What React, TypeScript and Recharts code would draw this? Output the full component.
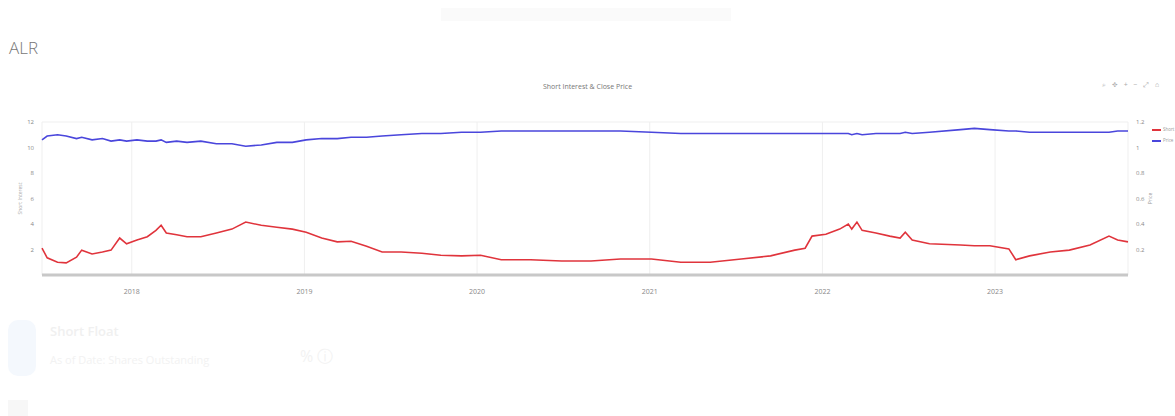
import React from "react";
import { LineChart, Line, XAxis, YAxis, CartesianGrid } from "recharts";

const dates = [
  2017.48, 2017.51, 2017.57, 2017.62, 2017.68, 2017.71, 2017.77, 2017.83, 2017.88, 2017.93,
  2017.97, 2018.03, 2018.09, 2018.14, 2018.17, 2018.2, 2018.26, 2018.32, 2018.4, 2018.49,
  2018.58, 2018.66, 2018.75, 2018.84, 2018.93, 2019.01, 2019.1, 2019.19, 2019.27, 2019.36,
  2019.45, 2019.56, 2019.68, 2019.79, 2019.91, 2020.02, 2020.14, 2020.31, 2020.49, 2020.66,
  2020.83, 2021.01, 2021.18, 2021.35, 2021.53, 2021.7, 2021.84, 2021.9, 2021.94, 2022.02,
  2022.1, 2022.15, 2022.17, 2022.2, 2022.23, 2022.31, 2022.39, 2022.45, 2022.48, 2022.52,
  2022.62, 2022.8, 2022.88, 2022.97, 2023.08, 2023.12, 2023.2, 2023.32, 2023.43, 2023.55,
  2023.66, 2023.71, 2023.77,
];

const shortInterest = [
  2.1, 1.35, 1.0, 0.95, 1.4, 1.95, 1.65, 1.8, 1.95, 2.9,
  2.45, 2.75, 3.0, 3.5, 3.9, 3.3, 3.15, 3.0, 3.0, 3.3,
  3.6, 4.15, 3.9, 3.75, 3.6, 3.35, 2.9, 2.6, 2.65, 2.25,
  1.8, 1.8, 1.7, 1.55, 1.5, 1.55, 1.2, 1.2, 1.1, 1.1,
  1.25, 1.25, 1.0, 1.0, 1.25, 1.5, 1.95, 2.1, 3.05, 3.2,
  3.6, 4.0, 3.6, 4.15, 3.5, 3.3, 3.05, 2.9, 3.35, 2.75,
  2.45, 2.35, 2.3, 2.3, 2.05, 1.2, 1.5, 1.8, 1.95, 2.35,
  3.05, 2.75, 2.6,
];

const closePrice = [
  1.06, 1.09, 1.1, 1.09, 1.07, 1.08, 1.06, 1.07, 1.05, 1.06,
  1.05, 1.06, 1.05, 1.05, 1.06, 1.04, 1.05, 1.04, 1.05, 1.03,
  1.03, 1.01, 1.02, 1.04, 1.04, 1.06, 1.07, 1.07, 1.08, 1.08,
  1.09, 1.1, 1.11, 1.11, 1.12, 1.12, 1.13, 1.13, 1.13, 1.13,
  1.13, 1.12, 1.11, 1.11, 1.11, 1.11, 1.11, 1.11, 1.11, 1.11,
  1.11, 1.11, 1.1, 1.11, 1.1, 1.11, 1.11, 1.11, 1.12, 1.11,
  1.12, 1.14, 1.15, 1.14, 1.13, 1.13, 1.12, 1.12, 1.12, 1.12,
  1.12, 1.13, 1.13,
];

const yearTicks = [2018, 2019, 2020, 2021, 2022, 2023];
const leftTicks = [2, 4, 6, 8, 10, 12];
const rightTicks = [0.2, 0.4, 0.6, 0.8, 1, 1.2];

const data = dates.map((t, i) => ({ t, si: shortInterest[i], px: closePrice[i] }));

const RED = "#e0343c";
const BLUE = "#4a46dc";
const FONT = "'Open Sans', 'Noto Sans', sans-serif";

export default function App() {
  return (
    <div style={{ position: "absolute", left: 0, top: 0, width: 1175, height: 416, fontFamily: FONT, background: "#fff", overflow: "hidden" }}>
      <div style={{ position: "absolute", left: 441, top: 8, width: 290, height: 13, background: "#fafafa" }} />
      <div style={{ position: "absolute", left: 9, top: 36, fontSize: 17, color: "#777", fontWeight: 300 }}>ALR</div>
      <div style={{ position: "absolute", left: 0, width: 1175, top: 82, textAlign: "center", fontSize: 7, color: "#777" }}>
        Short Interest &amp; Close Price
      </div>
      <div style={{ position: "absolute", left: 1102, top: 80, fontSize: 7, color: "#aaa", letterSpacing: 2, whiteSpace: "nowrap" }}>⌕ ✥ + − ⤢ ⌂</div>
      <div style={{ position: "absolute", left: 1152, top: 124, fontSize: 4.5, color: "#999", lineHeight: "11px" }}>
        <div style={{ display: "flex", alignItems: "center", whiteSpace: "nowrap" }}>
          <span style={{ display: "inline-block", width: 9, height: 2, background: RED, marginRight: 2 }} />Short
        </div>
        <div style={{ display: "flex", alignItems: "center", whiteSpace: "nowrap" }}>
          <span style={{ display: "inline-block", width: 9, height: 2, background: BLUE, marginRight: 2 }} />Price
        </div>
      </div>
      <div style={{ position: "absolute", left: 0, top: 100 }}>
        <LineChart width={1175} height={200} data={data} margin={{ top: 22, right: 17, bottom: 0, left: 0 }}>
          <CartesianGrid stroke="#efefef" strokeWidth={1} />
          <XAxis
            dataKey="t"
            type="number"
            domain={[2017.48, 2023.77]}
            ticks={yearTicks}
            height={25}
            tickLine={false}
            axisLine={{ stroke: "#c8c8c8", strokeWidth: 3 }}
            tick={{ fontSize: 7, fill: "#888" }}
            tickMargin={8}
            tickFormatter={(v: number) => String(v)}
          />
          <YAxis
            yAxisId="left"
            orientation="left"
            width={42}
            domain={[0, 12]}
            ticks={leftTicks}
            tickLine={false}
            axisLine={false}
            tick={{ fontSize: 6, fill: "#888" }}
            tickMargin={2}
            label={{ value: "Short Interest", angle: -90, position: "insideLeft", offset: 20, style: { fontSize: 5, fill: "#aaa", textAnchor: "middle" } }}
          />
          <YAxis
            yAxisId="right"
            orientation="right"
            width={30}
            domain={[0, 1.2]}
            ticks={rightTicks}
            tickLine={false}
            axisLine={false}
            tick={{ fontSize: 6, fill: "#888" }}
            tickMargin={2}
            tickFormatter={(v: number) => String(Math.round(v * 10) / 10)}
            label={{ value: "Price", angle: -90, position: "insideRight", offset: 8, style: { fontSize: 5, fill: "#999", textAnchor: "middle" } }}
          />
          <Line yAxisId="left" type="linear" dataKey="si" stroke={RED} strokeWidth={1.6} dot={false} isAnimationActive={false} />
          <Line yAxisId="right" type="linear" dataKey="px" stroke={BLUE} strokeWidth={1.6} dot={false} isAnimationActive={false} />
        </LineChart>
      </div>
      <div style={{ position: "absolute", left: 8, top: 320, width: 28, height: 56, borderRadius: 10, background: "#f4f8fd" }} />
      <div style={{ position: "absolute", left: 50, top: 322, fontSize: 13, color: "#f0f0f0", fontWeight: 600 }}>Short Float</div>
      <div style={{ position: "absolute", left: 50, top: 352, fontSize: 11, color: "#f2f2f2" }}>As of Date: Shares Outstanding</div>
      <div style={{ position: "absolute", left: 300, top: 345, fontSize: 16, color: "#f2f2f2" }}>% ⓘ</div>
      <div style={{ position: "absolute", left: 8, top: 400, width: 20, height: 16, background: "#f7f7f7" }} />
    </div>
  );
}
